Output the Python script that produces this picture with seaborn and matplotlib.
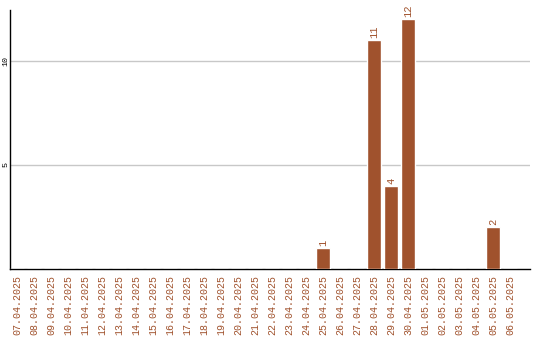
import pandas as pd
import matplotlib
matplotlib.use("Agg")
import matplotlib.pyplot as plt
import seaborn as sns

# Data
dates = ["07.04.2025", "08.04.2025", "09.04.2025", "10.04.2025", "11.04.2025",
         "12.04.2025", "13.04.2025", "14.04.2025", "15.04.2025", "16.04.2025",
         "17.04.2025", "18.04.2025", "19.04.2025", "20.04.2025", "21.04.2025",
         "22.04.2025", "23.04.2025", "24.04.2025", "25.04.2025", "26.04.2025",
         "27.04.2025", "28.04.2025", "29.04.2025", "30.04.2025", "01.05.2025",
         "02.05.2025", "03.05.2025", "04.05.2025", "05.05.2025", "06.05.2025"]
counts = [0, 0, 0, 0, 0, 0, 0, 0, 0, 0, 0, 0, 0, 0, 0, 0, 0, 0, 1, 0,
          0, 11, 4, 12, 0, 0, 0, 0, 2, 0]
y_ticks = [5, 10]

BAR_COLOR = "#A0522D"

df = pd.DataFrame({"date": dates, "count": counts})

sns.set_style("white")
plt.rcParams['font.family'] = ['Liberation Mono', 'DejaVu Sans Mono']

fig = plt.figure(figsize=(5.4, 3.4), dpi=100)
ax = fig.add_axes([10 / 540, 1 - 269 / 340, 520 / 540, 259 / 340])

sns.barplot(data=df, x="date", y="count", color=BAR_COLOR, saturation=1,
            width=0.84, ax=ax, zorder=3)

# value labels above non-zero bars
for i, v in enumerate(counts):
    if v > 0:
        ax.text(i, v + 0.1, str(v), rotation=90, ha="center", va="bottom",
                color=BAR_COLOR, fontsize=7.5)

ax.set_xlim(-0.41, 30.18)
ax.set_ylim(0, 12.45)
ax.set_yticks(y_ticks)
ax.set_yticklabels([str(t) for t in y_ticks])
ax.yaxis.grid(True, color="#c8c8c8", linewidth=1, zorder=0)
ax.xaxis.grid(False)
ax.tick_params(axis="x", labelrotation=90, labelsize=7.2, labelcolor=BAR_COLOR,
               length=0, pad=4)
ax.tick_params(axis="y", labelrotation=90, labelsize=6, labelcolor="black",
               length=0, pad=0.5)
for lbl in ax.get_yticklabels():
    lbl.set_va("center")
ax.set_xlabel("")
ax.set_ylabel("")

for side in ["top", "right"]:
    ax.spines[side].set_visible(False)
for side in ["left", "bottom"]:
    ax.spines[side].set_color("black")
    ax.spines[side].set_linewidth(1)

fig.savefig("out.png", dpi=100)
